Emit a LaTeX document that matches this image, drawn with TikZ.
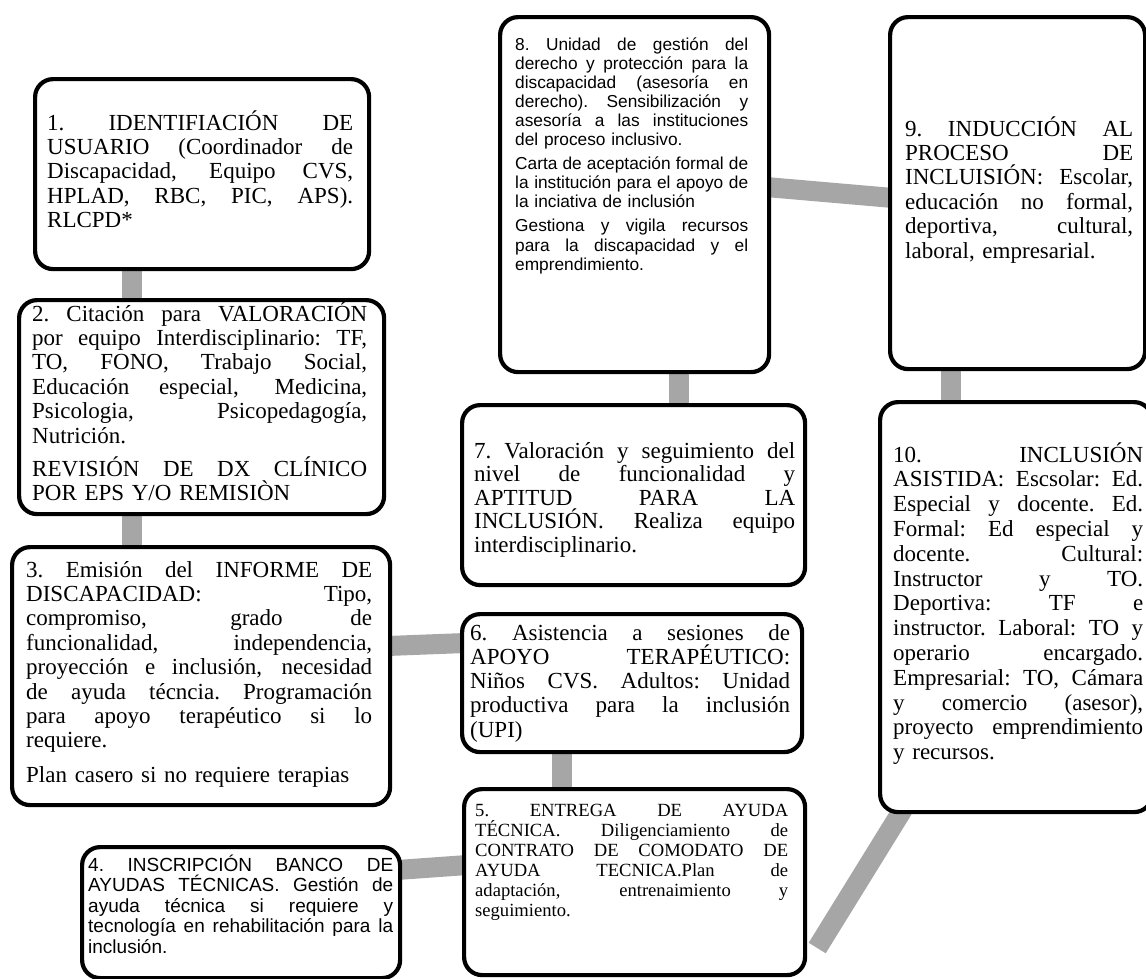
\documentclass[tikz,border=0pt]{standalone}
\usepackage{fontspec}
\setmainfont{Liberation Serif}
\newfontfamily\arialf{Liberation Sans}
\usetikzlibrary{calc,backgrounds}
\definecolor{conngray}{RGB}{166,166,166}
\newcommand\jline[1]{\noindent\hbox to \linewidth{\spaceskip=.25em plus 1fil\xspaceskip=.25em plus 1fil\relax #1}\par}
\newcommand\fline[1]{\noindent #1\par}
\tikzset{
  box/.style={draw=black, line width=4.2pt, rounded corners=18pt, fill=white, inner sep=0pt, anchor=north west},
  conn/.style={draw=conngray, line width=20pt},
  txt/.style={inner sep=0pt, anchor=base west},
  tms/.style={txt, font=\fontsize{23}{24.4}\selectfont},
  tmsmall/.style={txt, font=\fontsize{18.6}{20}\selectfont},
  ari/.style={txt, font=\arialf\fontsize{19}{20.5}\selectfont},
  arismall/.style={txt, font=\arialf\fontsize{17.3}{19.1}\selectfont},
}
\begin{document}
\begin{tikzpicture}[x=1pt, y=-1pt]
\useasboundingbox (0,0) rectangle (1146,978);

% boxes
\node[box, minimum width=334pt, minimum height=190pt] (b1) at (33,77) {};
\node[box, minimum width=365pt, minimum height=214pt] (b2) at (17,298) {};
\node[box, minimum width=378pt, minimum height=258pt] (b3) at (10,545) {};
\node[box, minimum width=318pt, minimum height=131pt] (b4) at (80,845) {};
\node[box, minimum width=341pt, minimum height=186pt] (b5) at (462,787) {};
\node[box, minimum width=340pt, minimum height=138pt] (b6) at (460,612) {};
\node[box, minimum width=343pt, minimum height=180pt] (b7) at (460,403) {};
\node[box, minimum width=269pt, minimum height=355pt] (b8) at (498,15) {};
\node[box, minimum width=255pt, minimum height=352pt] (b9) at (888,15) {};
\node[box, minimum width=272pt, minimum height=410pt] (b10) at (878,400) {};

% connectors
\begin{pgfonlayer}{background}
\draw[conn] ($(b1.south west)+(99,-5)$) -- ($(b2.north west)+(115,5)$);
\draw[conn] ($(b2.south west)+(115,-5)$) -- ($(b3.north west)+(122,5)$);
\draw[conn] ($(b3.north east)+(-5,101)$) -- ($(b6.north west)+(5,31)$);
\draw[conn] ($(b6.south west)+(102,-5)$) -- ($(b5.north west)+(100,5)$);
\draw[conn] ($(b4.north east)+(-5,25)$) -- ($(b5.north west)+(5,78)$);
\draw[conn] ($(b5.north east)+(10,161)$) -- ($(b10.south west)+(25,-5)$);
\draw[conn] ($(b8.south west)+(181,-5)$) -- ($(b7.north west)+(219,5)$);
\draw[conn] ($(b8.north east)+(-5,172)$) -- ($(b9.north west)+(5,183)$);
\draw[conn] ($(b9.south west)+(63,-5)$) -- ($(b10.north west)+(73,5)$);
\end{pgfonlayer}

% texts
\node[tms, text width=306pt] (t1) at (47,130) {%
\jline{1. IDENTIFIACIÓN DE}
\jline{USUARIO (Coordinador de}
\jline{Discapacidad, Equipo CVS,}
\jline{HPLAD, RBC, PIC, APS).}
\fline{RLCPD*}};

\node[tms, text width=335pt] (t2) at (32,321) {%
\jline{2. Citación para VALORACIÓN}
\jline{por equipo Interdisciplinario: TF,}
\jline{TO, FONO, Trabajo Social,}
\jline{Educación especial, Medicina,}
\jline{Psicologia, Psicopedagogía,}
\fline{Nutrición.}
\vspace{9pt}
\jline{REVISIÓN DE DX CLÍNICO}
\fline{POR EPS Y/O REMISIÒN}};

\node[tms, text width=346pt] (t3) at (26,577) {%
\jline{3. Emisión del INFORME DE}
\jline{DISCAPACIDAD: Tipo,}
\jline{compromiso, grado de}
\jline{funcionalidad, independencia,}
\jline{proyección e inclusión, necesidad}
\jline{de ayuda técncia. Programación}
\jline{para apoyo terapéutico si lo}
\fline{requiere.}
\vspace{10pt}
\fline{Plan casero si no requiere terapias}};

\node[ari, text width=305pt] (t4) at (88,871) {%
\jline{4. INSCRIPCIÓN BANCO DE}
\jline{AYUDAS TÉCNICAS. Gestión de}
\jline{ayuda técnica si requiere y}
\jline{tecnología en rehabilitación para la}
\fline{inclusión.}};

\node[tmsmall, text width=313pt] (t5) at (475,816) {%
\jline{5. ENTREGA DE AYUDA}
\jline{TÉCNICA. Diligenciamiento de}
\jline{CONTRATO DE COMODATO DE}
\jline{AYUDA TECNICA.Plan de}
\jline{adaptación, entrenaimiento y}
\fline{seguimiento.}};

\node[tms, text width=320pt, font=\fontsize{23}{24.3}\selectfont] (t6) at (470,640) {%
\jline{6. Asistencia a sesiones de}
\jline{APOYO TERAPÉUTICO:}
\jline{Niños CVS. Adultos: Unidad}
\jline{productiva para la inclusión}
\fline{(UPI)}};

\node[tms, text width=321pt, font=\fontsize{23}{23.6}\selectfont] (t7) at (474,458) {%
\jline{7. Valoración y seguimiento del}
\jline{nivel de funcionalidad y}
\jline{APTITUD PARA LA}
\jline{INCLUSIÓN. Realiza equipo}
\fline{interdisciplinario.}};

\node[arismall, text width=233pt] (t8) at (515,50) {%
\jline{8. Unidad de gestión del}
\jline{derecho y protección para la}
\jline{discapacidad (asesoría en}
\jline{derecho). Sensibilización y}
\jline{asesoría a las instituciones}
\fline{del proceso inclusivo.}
\vspace{5pt}
\jline{Carta de aceptación formal de}
\jline{la institución para el apoyo de}
\fline{la inciativa de inclusión}
\vspace{5pt}
\jline{Gestiona y vigila recursos}
\jline{para la discapacidad y el}
\fline{emprendimiento.}};

\node[tms, text width=228pt] (t9) at (905,136) {%
\jline{9. INDUCCIÓN AL}
\jline{PROCESO DE}
\jline{INCLUISIÓN: Escolar,}
\jline{educación no formal,}
\jline{deportiva, cultural,}
\fline{laboral, empresarial.}};

\node[tms, text width=250pt, font=\fontsize{23}{24.8}\selectfont] (t10) at (893,462) {%
\jline{10. INCLUSIÓN}
\jline{ASISTIDA: Escsolar: Ed.}
\jline{Especial y docente. Ed.}
\jline{Formal: Ed especial y}
\jline{docente. Cultural:}
\jline{Instructor y TO.}
\jline{Deportiva: TF e}
\jline{instructor. Laboral: TO y}
\jline{operario encargado.}
\jline{Empresarial: TO, Cámara}
\jline{y comercio (asesor),}
\jline{proyecto emprendimiento}
\fline{y recursos.}};
\end{tikzpicture}
\end{document}
